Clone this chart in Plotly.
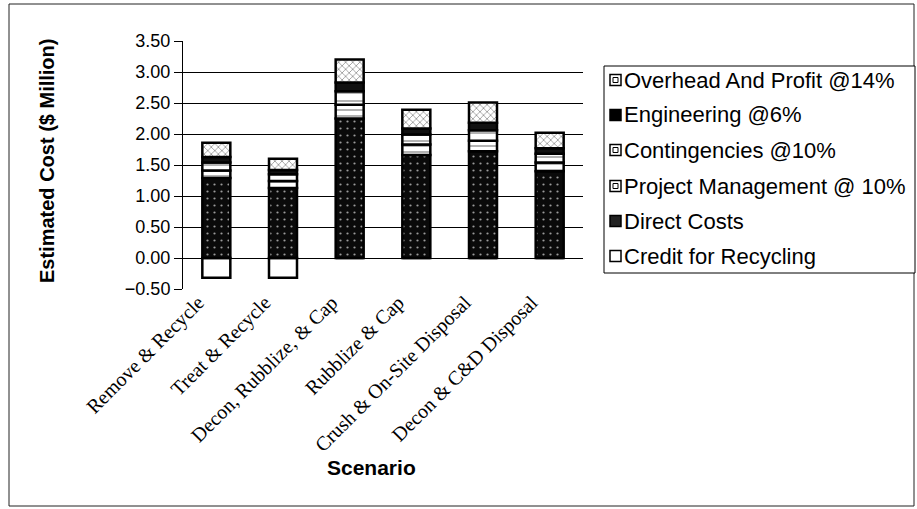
import plotly.graph_objects as go

categories = ["Remove & Recycle", "Treat & Recycle", "Decon, Rubblize, & Cap",
              "Rubblize & Cap", "Crush & On-Site Disposal", "Decon & C&D Disposal"]
credit_recycling = [-0.32, -0.32, 0.0, 0.0, 0.0, 0.0]
direct_costs = [1.29, 1.13, 2.25, 1.66, 1.72, 1.40]
project_mgmt = [0.12, 0.11, 0.22, 0.17, 0.17, 0.14]
contingencies = [0.13, 0.11, 0.22, 0.16, 0.17, 0.14]
engineering = [0.09, 0.07, 0.14, 0.10, 0.12, 0.09]
overhead_profit = [0.23, 0.18, 0.37, 0.30, 0.33, 0.25]

y_ticks = [-0.5, 0, 0.5, 1.0, 1.5, 2.0, 2.5, 3.0, 3.5]

# plot-area geometry in pixels (for paper conversions of decorations)
W, H = 917, 509
L, R, T, B = 183, 583, 41, 289


def px(x):
    return (x - L) / (R - L)


def py(y):
    return (B - y) / (B - T)


series = [
    ("Credit for Recycling", credit_recycling, dict(color="white")),
    ("Direct Costs", direct_costs,
     dict(color="#0a0a0a", pattern=dict(shape=".", fgcolor="#9a9a9a", bgcolor="#0a0a0a",
                                         size=7, solidity=0.08, fillmode="replace"))),
    ("Project Management @ 10%", project_mgmt,
     dict(color="white", pattern=dict(shape="-", fgcolor="black", bgcolor="white",
                                       size=6, solidity=0.2))),
    ("Contingencies @10%", contingencies,
     dict(color="white", pattern=dict(shape="-", fgcolor="black", bgcolor="white",
                                       size=8, solidity=0.15))),
    ("Engineering @6%", engineering, dict(color="#111111")),
    ("Overhead And Profit @14%", overhead_profit,
     dict(color="white", pattern=dict(shape="x", fgcolor="black", bgcolor="white",
                                       size=5, solidity=0.25))),
]

fig = go.Figure()
for name, vals, mk in series:
    mk = dict(mk)
    mk["line"] = dict(color="black", width=2.5)
    fig.add_trace(go.Bar(x=categories, y=vals, name=name, marker=mk, showlegend=False))

shapes = []
annotations = []

# outer chart frame
shapes.append(dict(type="rect", xref="paper", yref="paper",
                   x0=px(9), x1=px(914), y0=py(506), y1=py(4),
                   line=dict(color="#222222", width=1)))

# legend box (manual)
shapes.append(dict(type="rect", xref="paper", yref="paper",
                   x0=px(604), x1=px(915), y0=py(273), y1=py(66),
                   line=dict(color="black", width=1), fillcolor="white", layer="above"))

legend_items = [
    ("Overhead And Profit @14%", "white", True),
    ("Engineering @6%", "black", False),
    ("Contingencies @10%", "white", True),
    ("Project Management @ 10%", "white", True),
    ("Direct Costs", "#222222", False),
    ("Credit for Recycling", "white", False),
]
centers = [80, 115, 150, 186, 221, 256]
for (name, fc, inner), cy in zip(legend_items, centers):
    shapes.append(dict(type="rect", xref="paper", yref="paper",
                       x0=px(610), x1=px(621), y0=py(cy + 5.5), y1=py(cy - 5.5),
                       line=dict(color="black", width=1.5), fillcolor=fc, layer="above"))
    if inner:
        shapes.append(dict(type="rect", xref="paper", yref="paper",
                           x0=px(613), x1=px(618), y0=py(cy + 2.5), y1=py(cy - 2.5),
                           line=dict(color="black", width=1), fillcolor="white", layer="above"))
    annotations.append(dict(text=name, xref="paper", yref="paper", x=px(622), y=py(cy),
                            xanchor="left", yanchor="middle", showarrow=False,
                            font=dict(family="Liberation Sans, Arial", size=22, color="black")))

# axis titles
annotations.append(dict(text="<b>Estimated Cost ($ Million)</b>", xref="paper", yref="paper",
                        x=px(47), y=py(161), textangle=-90, showarrow=False,
                        xanchor="center", yanchor="middle",
                        font=dict(family="Liberation Sans, Arial", size=20, color="black")))
annotations.append(dict(text="<b>Scenario</b>", xref="paper", yref="paper",
                        x=px(371), y=py(467), showarrow=False,
                        xanchor="center", yanchor="middle",
                        font=dict(family="Liberation Sans, Arial", size=21, color="black")))

fig.update_layout(
    width=W, height=H,
    margin=dict(l=L, r=W - R, t=T, b=H - B),
    barmode="relative",
    bargap=0.58,
    plot_bgcolor="white",
    paper_bgcolor="white",
    shapes=shapes,
    annotations=annotations,
)
fig.update_yaxes(range=[-0.5, 3.5], tickvals=y_ticks, tickformat=".2f",
                 showgrid=True, gridcolor="black", gridwidth=1,
                 zeroline=True, zerolinecolor="black", zerolinewidth=1,
                 showline=True, linecolor="black", linewidth=1,
                 ticks="outside", ticklen=8, tickcolor="black",
                 tickfont=dict(family="Liberation Sans, Arial", size=18, color="black"))
fig.update_xaxes(tickangle=-45, showline=False, ticks="",
                 ticklabelshift=-18, ticklabelstandoff=-3,
                 tickfont=dict(family="Liberation Serif, Times New Roman", size=20, color="black"))

fig.write_html("out.html")
